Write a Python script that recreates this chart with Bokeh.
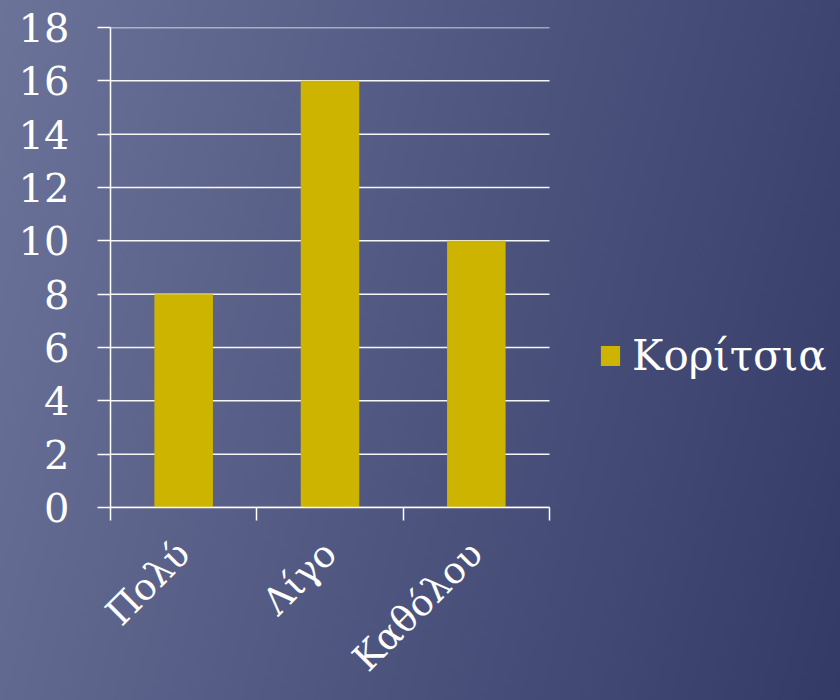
import math
from bokeh.plotting import figure
from bokeh.models import FixedTicker, Legend, LegendItem, Range1d
from bokeh.embed import file_html
from bokeh.resources import INLINE

categories = ["Πολύ", "Λίγο", "Καθόλου"]
girls = [8, 16, 10]
series_name = "Κορίτσια"
y_ticks = [0, 2, 4, 6, 8, 10, 12, 14, 16, 18]

FONT = "DejaVu Serif"
BAR = "#CCB400"

n = len(categories)
xs = [i + 0.5 for i in range(n)]
bounds = [float(i) for i in range(n + 1)]

# frame spans the whole width so that the legend (inside the frame) is not clipped;
# the category area occupies the left part only
left_px, cat_right_px, frame_right_px = 110, 549, 832
x_end = n * (frame_right_px - left_px) / (cat_right_px - left_px)

p = figure(width=840, height=700, output_backend="svg", toolbar_location=None,
           x_range=Range1d(0, x_end), y_range=Range1d(0, 18),
           min_border_left=left_px, min_border_right=840 - frame_right_px,
           min_border_top=27, min_border_bottom=193)
p.background_fill_color = None
p.border_fill_color = None
p.outline_line_color = None
p.styles = {"background": "linear-gradient(105deg, #6b7399 0%, #4c547e 55%, #333a66 100%)"}

p.xgrid.visible = False
p.ygrid.visible = False
# horizontal grid lines limited to the category area
p.segment(x0=[0] * len(y_ticks), x1=[n] * len(y_ticks), y0=y_ticks, y1=y_ticks,
          line_color="white", line_width=1.5, line_alpha=0.95)

r = p.vbar(x=xs, top=girls, width=0.4, fill_color=BAR, line_color=None)

# x axis
xa = p.xaxis[0]
xa.bounds = (0, n)
xa.ticker = FixedTicker(ticks=xs, minor_ticks=bounds)
xa.major_label_overrides = {x: c for x, c in zip(xs, categories)}
xa.major_tick_line_color = None
xa.major_tick_out = 0
xa.major_tick_in = 0
xa.minor_tick_line_color = "white"
xa.minor_tick_line_width = 1.5
xa.minor_tick_out = 13
xa.minor_tick_in = 0
xa.axis_line_color = "white"
xa.axis_line_width = 1.5
xa.major_label_orientation = math.pi / 4
xa.major_label_standoff = 27
xa.major_label_text_font = FONT
xa.major_label_text_font_size = "37px"
xa.major_label_text_color = "white"

# y axis
ya = p.yaxis[0]
ya.ticker = FixedTicker(ticks=y_ticks)
ya.major_tick_line_color = "white"
ya.major_tick_line_width = 1.5
ya.major_tick_out = 13
ya.major_tick_in = 0
ya.minor_tick_line_color = None
ya.axis_line_color = "white"
ya.axis_line_width = 1.5
ya.major_label_standoff = 28
ya.major_label_text_font = FONT
ya.major_label_text_font_size = "40px"
ya.major_label_text_color = "white"

legend = Legend(items=[LegendItem(label=series_name, renderers=[r])],
                location=(598 - left_px, 127))
legend.background_fill_alpha = 0
legend.border_line_color = None
legend.padding = 0
legend.margin = 0
legend.glyph_width = 24
legend.glyph_height = 25
legend.label_standoff = 10
legend.label_text_font = FONT
legend.label_text_font_size = "42px"
legend.label_text_color = "white"
p.add_layout(legend, "center")

open("out.html", "w").write(file_html(p, INLINE))
